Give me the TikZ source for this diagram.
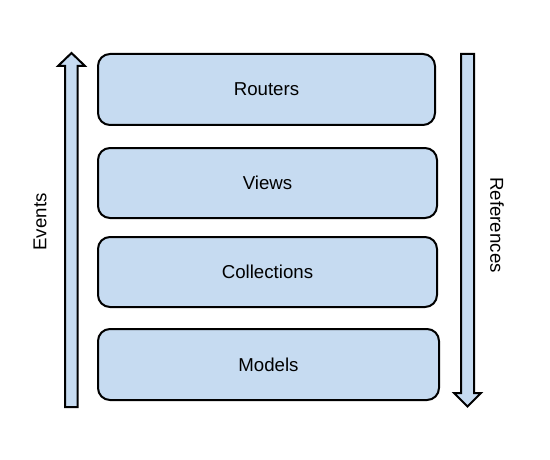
\documentclass[tikz,border=0pt]{standalone}
\usepackage{fontspec}
\setmainfont{Liberation Sans}
\definecolor{boxfill}{HTML}{C6DBF1}
\begin{document}
\begin{tikzpicture}[x=0.75pt,y=-0.75pt,
  layer/.style={draw=black,fill=boxfill,line width=1.5pt,rounded corners=9pt},
  lbl/.style={font=\fontsize{14}{16}\selectfont,inner sep=0pt},
  bigarrow/.style={draw=black,fill=boxfill,line width=1.5pt,line join=miter}]
\useasboundingbox (0,0) rectangle (550,460);
\filldraw[layer] (98,54) rectangle (435,125);
\node[lbl] (routers) at (266.5,89.5) {Routers};
\filldraw[layer] (98,148) rectangle (437,218);
\node[lbl] (views) at (267.5,183) {Views};
\filldraw[layer] (98,237) rectangle (437,307);
\node[lbl] (collections) at (267.5,272) {Collections};
\filldraw[layer] (98,329) rectangle (439,400);
\node[lbl] (models) at (268.5,364.5) {Models};
% up arrow (Events)
\filldraw[bigarrow] (65,407) -- (65,66) -- (58,66) -- (71.5,53) -- (85,66) -- (77.5,66) -- (77.5,407) -- cycle;
\node[lbl,rotate=90] (events) at (40,222) {Events};
% down arrow (References)
\filldraw[bigarrow] (461,54) -- (461,393) -- (454,393) -- (467.5,406.5) -- (481,393) -- (474,393) -- (474,54) -- cycle;
\node[lbl,rotate=-90] (references) at (497,225) {References};
\end{tikzpicture}
\end{document}
